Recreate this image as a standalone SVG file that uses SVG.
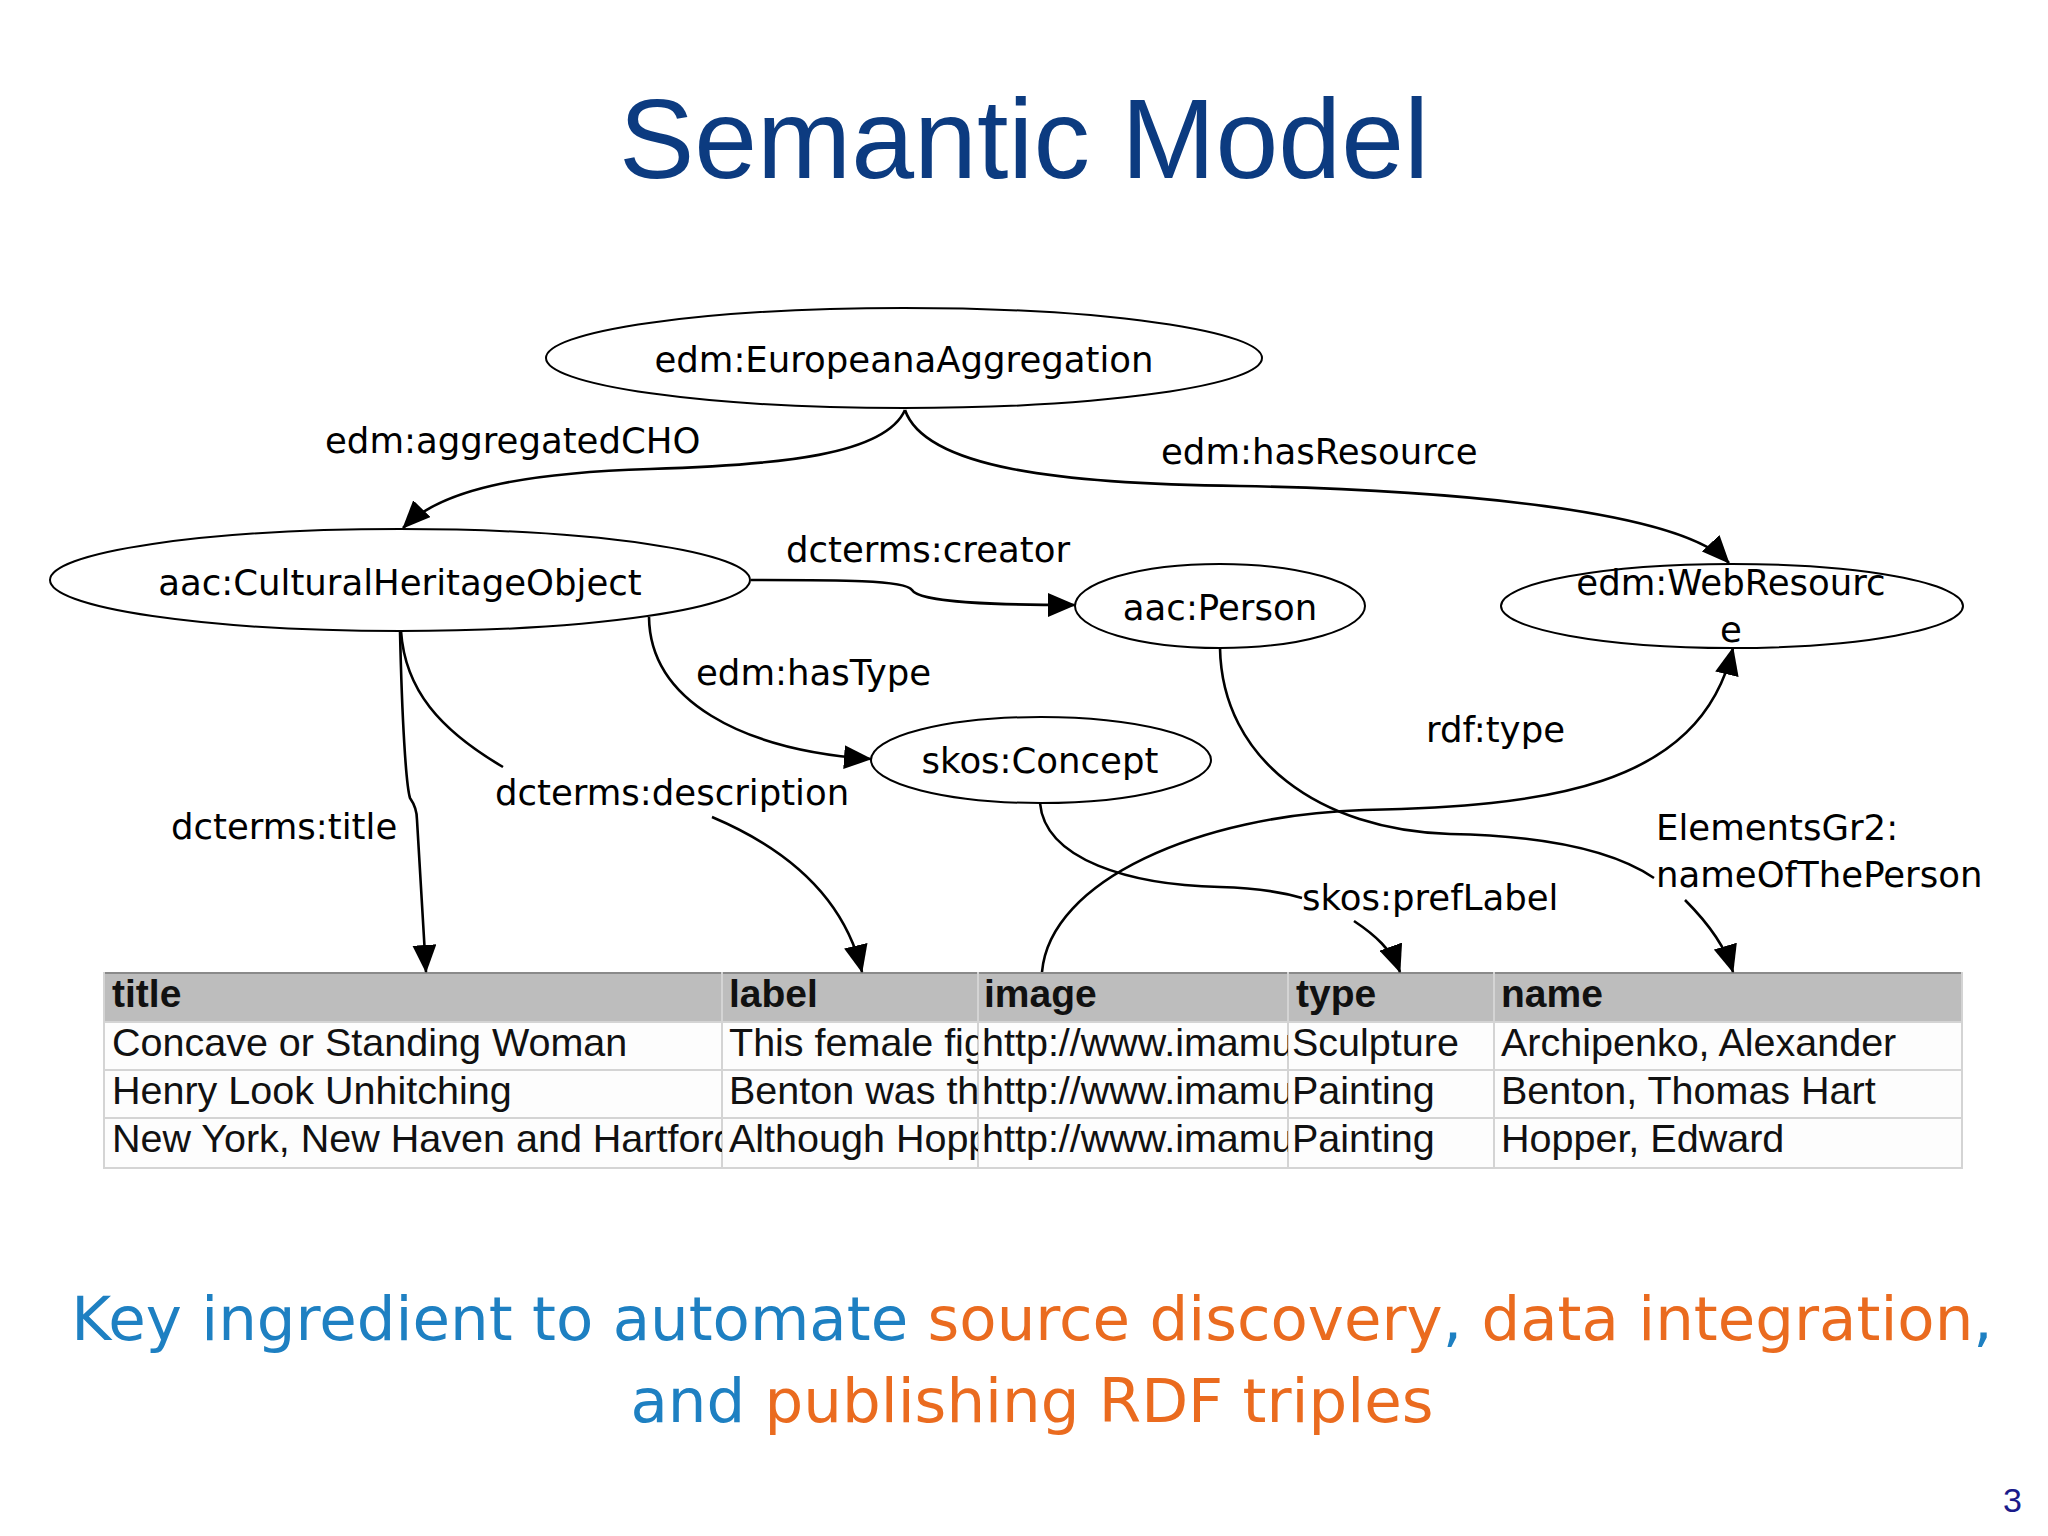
<svg xmlns="http://www.w3.org/2000/svg" width="2048" height="1536" viewBox="0 0 2048 1536">
<style>
.node{fill:#fff;stroke:#000;stroke-width:2}
.nt{font-family:"DejaVu Sans",sans-serif;font-size:35.5px;fill:#000;text-anchor:middle}
.lbl{font-family:"DejaVu Sans",sans-serif;font-size:35.5px;fill:#000}
.edge{fill:none;stroke:#000;stroke-width:2.6}
.th{font-family:"Liberation Sans",Arial,sans-serif;font-size:39px;font-weight:bold;fill:#111}
.td{font-family:"Liberation Sans",Arial,sans-serif;font-size:39.5px;fill:#111}
.grid{stroke:#d4d4d4;stroke-width:2}
.bt{font-family:"DejaVu Sans",sans-serif;font-size:61px;text-anchor:middle}
.blue{fill:#1e80c2}
.orange{fill:#ea6b1f}
</style>
<defs>
<marker id="arr" markerUnits="userSpaceOnUse" markerWidth="28" markerHeight="24" viewBox="0 0 28 24" refX="27" refY="12" orient="auto">
<path d="M0,0 L28,12 L0,24 Z" fill="#000"/>
</marker>
<clipPath id="c1"><rect x="103" y="972" width="619" height="197"/></clipPath>
<clipPath id="c2"><rect x="722" y="972" width="256" height="197"/></clipPath>
<clipPath id="c3"><rect x="978" y="972" width="310" height="197"/></clipPath>
<clipPath id="c4"><rect x="1288" y="972" width="206" height="197"/></clipPath>
<clipPath id="c5"><rect x="1494" y="972" width="469" height="197"/></clipPath>
</defs>
<rect width="2048" height="1536" fill="#fff"/>

<text x="1024" y="178" text-anchor="middle" font-family="Liberation Sans, Arial, sans-serif" font-size="113" fill="#0c3b80">Semantic Model</text>

<g id="table">
<rect x="103" y="972" width="1860" height="50" fill="#bdbdbd"/>
<rect x="103" y="1022" width="1860" height="147" fill="#fdfdfd"/>
<line x1="103" y1="973" x2="1963" y2="973" stroke="#8a8a8a" stroke-width="2"/>
<line class="grid" x1="103" y1="1022" x2="1963" y2="1022"/>
<line class="grid" x1="103" y1="1070" x2="1963" y2="1070"/>
<line class="grid" x1="103" y1="1118" x2="1963" y2="1118"/>
<line class="grid" x1="103" y1="1168" x2="1963" y2="1168"/>
<line class="grid" x1="104" y1="972" x2="104" y2="1169"/>
<line class="grid" x1="722" y1="972" x2="722" y2="1169"/>
<line class="grid" x1="978" y1="972" x2="978" y2="1169"/>
<line class="grid" x1="1288" y1="972" x2="1288" y2="1169"/>
<line class="grid" x1="1494" y1="972" x2="1494" y2="1169"/>
<line class="grid" x1="1962" y1="972" x2="1962" y2="1169"/>
<g clip-path="url(#c1)">
<text class="th" x="112" y="1007">title</text>
<text class="td" x="112" y="1056">Concave or Standing Woman</text>
<text class="td" x="112" y="1104">Henry Look Unhitching</text>
<text class="td" x="112" y="1152">New York, New Haven and Hartford</text>
</g>
<g clip-path="url(#c2)">
<text class="th" x="729" y="1007">label</text>
<text class="td" x="729" y="1056">This female fig</text>
<text class="td" x="729" y="1104">Benton was th</text>
<text class="td" x="729" y="1152">Although Hopp</text>
</g>
<g clip-path="url(#c3)">
<text class="th" x="984" y="1007">image</text>
<text class="td" x="982" y="1056">http://www.imamu</text>
<text class="td" x="982" y="1104">http://www.imamu</text>
<text class="td" x="982" y="1152">http://www.imamu</text>
</g>
<g clip-path="url(#c4)">
<text class="th" x="1296" y="1007">type</text>
<text class="td" x="1292" y="1056">Sculpture</text>
<text class="td" x="1292" y="1104">Painting</text>
<text class="td" x="1292" y="1152">Painting</text>
</g>
<g clip-path="url(#c5)">
<text class="th" x="1501" y="1007">name</text>
<text class="td" x="1501" y="1056">Archipenko, Alexander</text>
<text class="td" x="1501" y="1104">Benton, Thomas Hart</text>
<text class="td" x="1501" y="1152">Hopper, Edward</text>
</g>
</g>

<g id="connectors">
<path class="edge" marker-end="url(#arr)" d="M905,410 C885,455 780,465 650,469 C520,473 440,490 403,528"/>
<path class="edge" marker-end="url(#arr)" d="M905,410 C925,468 1060,484 1240,486 C1450,490 1680,510 1729,563"/>
<path class="edge" marker-end="url(#arr)" d="M751,580 C840,580 905,580 912,590 C920,603 1000,605 1075,605"/>
<path class="edge" marker-end="url(#arr)" d="M649,617 C650,700 740,750 871,759"/>
<path class="edge" marker-end="url(#arr)" d="M400,631 C402,720 406,785 410,798 Q417,808 417,820 L426,972"/>
<path class="edge" d="M401,631 C405,690 440,730 503,767"/>
<path class="edge" marker-end="url(#arr)" d="M712,817 C790,850 845,900 862,972"/>
<path class="edge" d="M1040,803 C1045,860 1130,885 1220,887 C1260,888 1285,893 1302,898"/>
<path class="edge" marker-end="url(#arr)" d="M1354,921 C1375,935 1392,950 1400,972"/>
<path class="edge" d="M1220,648 C1222,760 1320,830 1450,834 C1560,836 1620,855 1654,878"/>
<path class="edge" marker-end="url(#arr)" d="M1685,900 C1705,920 1725,945 1733,972"/>
<path class="edge" marker-end="url(#arr)" d="M1042,972 C1050,880 1200,815 1364,810 C1540,806 1700,790 1733,648"/>
<text class="lbl" x="325" y="453">edm:aggregatedCHO</text>
<text class="lbl" x="1161" y="464">edm:hasResource</text>
<text class="lbl" x="786" y="562">dcterms:creator</text>
<text class="lbl" x="696" y="685">edm:hasType</text>
<text class="lbl" x="171" y="839">dcterms:title</text>
<text class="lbl" x="495" y="805">dcterms:description</text>
<text class="lbl" x="1426" y="742">rdf:type</text>
<text class="lbl" x="1302" y="910">skos:prefLabel</text>
<text class="lbl" x="1656" y="840">ElementsGr2:</text>
<text class="lbl" x="1656" y="887">nameOfThePerson</text>
</g>

<g id="n-aggregation">
<ellipse class="node" cx="904" cy="358" rx="358" ry="50"/>
<text class="nt" x="904" y="372">edm:EuropeanaAggregation</text>
</g>
<g id="n-cho">
<ellipse class="node" cx="400" cy="580" rx="350" ry="51"/>
<text class="nt" x="400" y="595" font-size="36.5">aac:CulturalHeritageObject</text>
</g>
<g id="n-person">
<ellipse class="node" cx="1220" cy="606" rx="145" ry="42"/>
<text class="nt" x="1220" y="620">aac:Person</text>
</g>
<g id="n-webresource">
<ellipse class="node" cx="1732" cy="606" rx="231" ry="42"/>
<text class="nt" x="1731" y="595">edm:WebResourc</text>
<text class="nt" x="1731" y="642">e</text>
</g>
<g id="n-concept">
<ellipse class="node" cx="1041" cy="760" rx="170" ry="43"/>
<text class="nt" x="1040" y="773">skos:Concept</text>
</g>

<text class="bt" x="1032" y="1340"><tspan class="blue">Key ingredient to automate </tspan><tspan class="orange">source discovery</tspan><tspan class="blue">, </tspan><tspan class="orange">data integration</tspan><tspan class="blue">,</tspan></text>
<text class="bt" x="1032" y="1422"><tspan class="blue">and </tspan><tspan class="orange">publishing RDF triples</tspan></text>
<text x="2022" y="1512" text-anchor="end" font-family="Liberation Sans, Arial, sans-serif" font-size="34" fill="#1a1a8a">3</text>
</svg>
